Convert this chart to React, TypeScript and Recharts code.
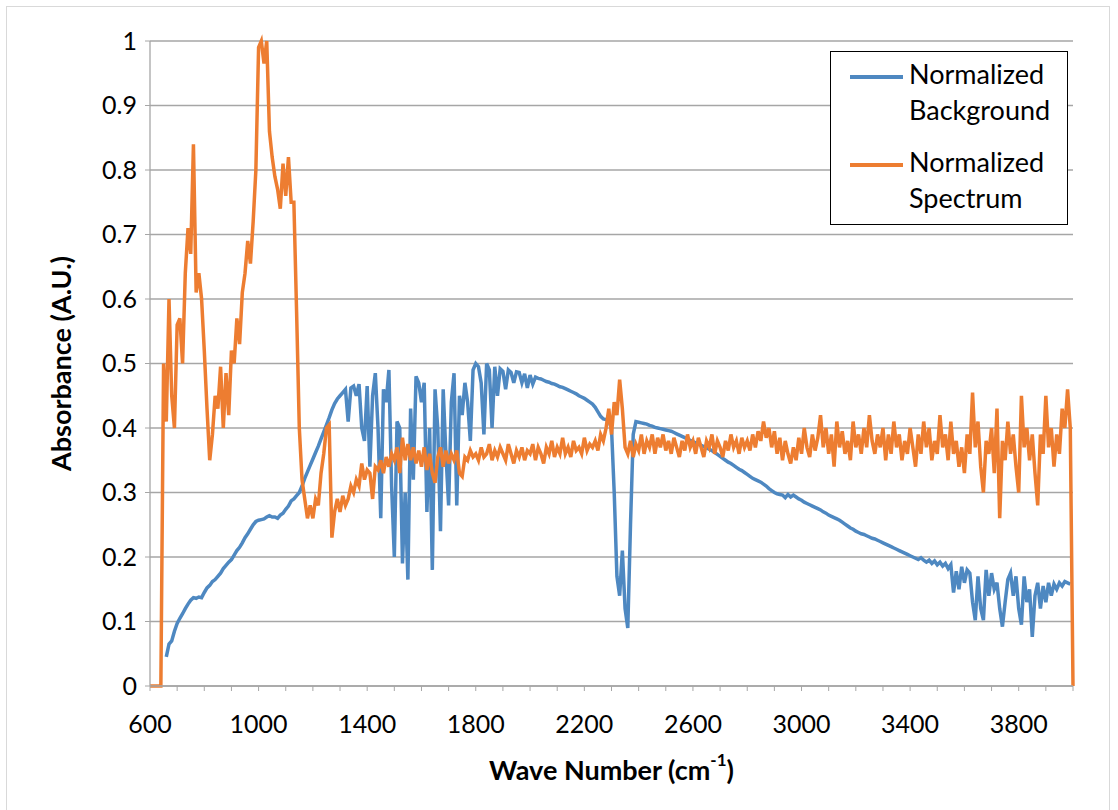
import React from "react"
import { LineChart, Line, XAxis, YAxis, CartesianGrid, Legend } from "recharts"

// wave numbers 600..4000, step 10 cm-1
const waveNumbers: number[] = Array.from({ length: 341 }, (_, i) => 600 + i * 10)

// Normalized Background (blue), one row per 100 cm-1
const background: (number | null)[] = [
  null, null, null, null, null, null, 0.045, 0.065, 0.07, 0.085,
  0.097, 0.105, 0.112, 0.12, 0.127, 0.133, 0.137, 0.136, 0.138, 0.137,
  0.145, 0.152, 0.156, 0.162, 0.165, 0.17, 0.175, 0.182, 0.187, 0.192,
  0.196, 0.203, 0.21, 0.215, 0.222, 0.23, 0.236, 0.243, 0.25, 0.255,
  0.257, 0.258, 0.259, 0.262, 0.264, 0.262, 0.262, 0.26, 0.265, 0.268,
  0.274, 0.279, 0.287, 0.29, 0.295, 0.3, 0.31, 0.322, 0.332, 0.342,
  0.352, 0.362, 0.372, 0.383, 0.394, 0.405, 0.416, 0.428, 0.438, 0.445,
  0.45, 0.455, 0.46, 0.41, 0.462, 0.465, 0.45, 0.468, 0.4, 0.38,
  0.465, 0.34, 0.45, 0.485, 0.4, 0.26, 0.46, 0.44, 0.49, 0.31,
  0.2, 0.41, 0.4, 0.19, 0.3, 0.165, 0.43, 0.32, 0.48, 0.47,
  0.44, 0.47, 0.27, 0.4, 0.18, 0.46, 0.4, 0.24, 0.46, 0.36,
  0.28, 0.44, 0.485, 0.28, 0.45, 0.42, 0.47, 0.44, 0.38, 0.49,
  0.5, 0.495, 0.47, 0.39, 0.5, 0.49, 0.4, 0.495, 0.45, 0.492,
  0.488, 0.46, 0.49, 0.486, 0.47, 0.487, 0.486, 0.47, 0.484, 0.462,
  0.482, 0.468, 0.479, 0.477, 0.476, 0.474, 0.472, 0.471, 0.469, 0.468,
  0.466, 0.464, 0.463, 0.461, 0.459, 0.457, 0.455, 0.453, 0.45, 0.448,
  0.446, 0.443, 0.44, 0.437, 0.432, 0.425, 0.418, 0.414, 0.413, 0.411,
  0.4, 0.3, 0.17, 0.14, 0.21, 0.12, 0.09, 0.25, 0.39, 0.41,
  0.409, 0.408, 0.407, 0.406, 0.404, 0.403, 0.401, 0.4, 0.399, 0.398,
  0.397, 0.396, 0.395, 0.393, 0.391, 0.389, 0.387, 0.385, 0.383, 0.381,
  0.379, 0.377, 0.375, 0.373, 0.371, 0.369, 0.367, 0.365, 0.362, 0.359,
  0.356, 0.353, 0.35, 0.347, 0.345, 0.342, 0.339, 0.336, 0.334, 0.331,
  0.328, 0.325, 0.322, 0.32, 0.318, 0.316, 0.313, 0.31, 0.306, 0.303,
  0.3, 0.298, 0.297, 0.296, 0.292, 0.297, 0.293, 0.296, 0.293, 0.29,
  0.288, 0.285, 0.283, 0.281, 0.279, 0.277, 0.275, 0.273, 0.27, 0.268,
  0.265, 0.263, 0.261, 0.259, 0.257, 0.254, 0.251, 0.248, 0.245, 0.243,
  0.24, 0.238, 0.236, 0.235, 0.233, 0.231, 0.229, 0.228, 0.226, 0.224,
  0.222, 0.22, 0.218, 0.216, 0.214, 0.212, 0.21, 0.208, 0.206, 0.204,
  0.202, 0.2, 0.198, 0.196, 0.199, 0.195, 0.192, 0.195, 0.19, 0.194,
  0.188, 0.192, 0.186, 0.19, 0.182, 0.188, 0.145, 0.178, 0.15, 0.185,
  0.16, 0.18, 0.175, 0.13, 0.102, 0.17, 0.12, 0.102, 0.18, 0.14,
  0.175, 0.15, 0.16, 0.12, 0.092, 0.13, 0.165, 0.175, 0.14, 0.17,
  0.12, 0.095, 0.17, 0.13, 0.15, 0.076, 0.14, 0.16, 0.12, 0.155,
  0.13, 0.16, 0.14, 0.158, 0.15, 0.16, 0.155, 0.162, 0.16, 0.158,
  null,
]

// Normalized Spectrum (orange)
const spectrum: number[] = [
  0, 0, 0, 0, 0, 0.5, 0.41, 0.6, 0.45, 0.4,
  0.56, 0.57, 0.5, 0.64, 0.71, 0.67, 0.84, 0.61, 0.64, 0.6,
  0.52, 0.43, 0.35, 0.39, 0.45, 0.43, 0.495, 0.4, 0.485, 0.42,
  0.52, 0.5, 0.57, 0.53, 0.61, 0.64, 0.69, 0.655, 0.72, 0.8,
  0.99, 1.0, 0.965, 1.0, 0.86, 0.82, 0.79, 0.77, 0.74, 0.81,
  0.76, 0.82, 0.75, 0.75, 0.58, 0.4, 0.32, 0.29, 0.26, 0.28,
  0.26, 0.29, 0.28, 0.33, 0.36, 0.4, 0.405, 0.23, 0.27, 0.29,
  0.27, 0.295, 0.28, 0.29, 0.31, 0.3, 0.32, 0.31, 0.345, 0.32,
  0.335, 0.33, 0.29, 0.34, 0.335, 0.35, 0.33, 0.355, 0.34, 0.36,
  0.35, 0.37, 0.33, 0.385, 0.35, 0.375, 0.35, 0.37, 0.345, 0.365,
  0.34, 0.37, 0.335, 0.36, 0.33, 0.315, 0.355, 0.37, 0.34, 0.365,
  0.345, 0.36, 0.35, 0.365, 0.33, 0.325, 0.355, 0.35, 0.365, 0.355,
  0.36, 0.35, 0.37, 0.355, 0.36, 0.375, 0.35, 0.365, 0.355, 0.37,
  0.36, 0.35, 0.375, 0.36, 0.345, 0.365, 0.355, 0.37, 0.35, 0.365,
  0.36, 0.375, 0.35, 0.37, 0.36, 0.345, 0.37, 0.36, 0.38, 0.355,
  0.37, 0.36, 0.385, 0.36, 0.37, 0.355, 0.38, 0.365, 0.37, 0.36,
  0.385, 0.365, 0.375, 0.37, 0.38, 0.365, 0.39, 0.38, 0.4, 0.43,
  0.39, 0.44, 0.42, 0.475, 0.43, 0.37, 0.36, 0.38, 0.355, 0.375,
  0.365, 0.39, 0.36, 0.38, 0.37, 0.39, 0.36, 0.385, 0.37, 0.39,
  0.365, 0.38, 0.36, 0.385, 0.37, 0.355, 0.38, 0.365, 0.39, 0.37,
  0.38, 0.36, 0.385, 0.37, 0.355, 0.38, 0.37, 0.39, 0.36, 0.38,
  0.37, 0.355, 0.38, 0.365, 0.39, 0.37, 0.38, 0.36, 0.385, 0.37,
  0.38, 0.365, 0.39, 0.37, 0.395, 0.38, 0.41, 0.385, 0.4, 0.37,
  0.395, 0.36, 0.385, 0.35, 0.38, 0.36, 0.345, 0.37, 0.35, 0.385,
  0.36, 0.4, 0.37, 0.355, 0.39, 0.365, 0.385, 0.42, 0.37, 0.4,
  0.36, 0.39, 0.34, 0.41, 0.37, 0.395, 0.36, 0.38, 0.35, 0.41,
  0.37, 0.39, 0.36, 0.4, 0.37, 0.42, 0.38, 0.36, 0.39, 0.37,
  0.4, 0.35, 0.39, 0.36, 0.41, 0.37, 0.39, 0.35, 0.38, 0.36,
  0.4, 0.37, 0.34, 0.39, 0.36, 0.41, 0.37, 0.4, 0.35, 0.38,
  0.36, 0.42, 0.37, 0.39, 0.35, 0.41, 0.36, 0.38, 0.34, 0.37,
  0.33, 0.39, 0.36, 0.455, 0.37, 0.41, 0.34, 0.3, 0.38, 0.36,
  0.4, 0.33, 0.43, 0.26, 0.38, 0.35, 0.41, 0.36, 0.39, 0.34,
  0.3, 0.45, 0.37, 0.4, 0.35, 0.39, 0.33, 0.28, 0.39, 0.36,
  0.45, 0.37, 0.4, 0.34, 0.39, 0.36, 0.43, 0.4, 0.46, 0.4,
  0,
]

const xTicks: number[] = Array.from({ length: 35 }, (_, i) => 600 + i * 100)
const yTicks = [0, 0.1, 0.2, 0.3, 0.4, 0.5, 0.6, 0.7, 0.8, 0.9, 1]

const BLUE = "#4E88C1"
const ORANGE = "#ED7D31"
const GRID = "#a6a6a6"
const FONT = "Lato, 'Open Sans', sans-serif"

const data = waveNumbers.map((w, i) => ({
  w,
  background: background[i],
  spectrum: spectrum[i],
}))

const fmtX = (v: number) => ((v - 600) % 400 === 0 && v < 4000 ? String(v) : "")
const fmtY = (v: number) => String(Math.round(v * 10) / 10)

const XTitle = (props: any) => {
  const vb = props.viewBox || {}
  const cx = vb.x + vb.width / 2
  return (
    <text x={cx} y={769} textAnchor="middle" dominantBaseline="central"
      style={{ fontFamily: FONT, fontSize: 27, fontWeight: 700, fill: "#000" }}>
      <tspan>Wave Number (cm</tspan>
      <tspan dy={-10} fontSize={17}>-1</tspan>
      <tspan dy={10}>)</tspan>
    </text>
  )
}

const YTitle = (props: any) => {
  const vb = props.viewBox || {}
  const cy = vb.y + vb.height / 2
  return (
    <text x={60} y={cy} transform={`rotate(-90, 60, ${cy})`} textAnchor="middle"
      dominantBaseline="central"
      style={{ fontFamily: FONT, fontSize: 27, fontWeight: 700, fill: "#000" }}>
      Absorbance (A.U.)
    </text>
  )
}

const LegendBox = () => {
  const items = [
    { color: BLUE, lines: ["Normalized", "Background"] },
    { color: ORANGE, lines: ["Normalized", "Spectrum"] },
  ]
  return (
    <div style={{
      width: 238, height: 174, boxSizing: "border-box", border: "1.5px solid #000",
      background: "#fff", paddingTop: 4, fontFamily: FONT, fontSize: 27, color: "#000",
    }}>
      {items.map((it) => (
        <div key={it.lines[1]} style={{ display: "flex", alignItems: "flex-start", marginBottom: 16 }}>
          <div style={{ width: 53, height: 3.5, background: it.color, marginLeft: 19, marginTop: 19, marginRight: 6 }} />
          <div style={{ lineHeight: "36px" }}>
            {it.lines.map((t) => <div key={t}>{t}</div>)}
          </div>
        </div>
      ))}
    </div>
  )
}

export default function App() {
  return (
    <div style={{ position: "absolute", left: 0, top: 0, width: 1118, height: 810, background: "#fff" }}>
      <div style={{
        position: "absolute", left: 6, top: 6, width: 1104, height: 820,
        border: "1px solid #d9d9d9", boxSizing: "border-box",
      }} />
      <div style={{ position: "absolute", left: 0, top: 0 }}>
        <LineChart width={1118} height={810} data={data}
          margin={{ top: 41, right: 45, bottom: 34, left: 0 }}>
          <CartesianGrid horizontal vertical={false} stroke={GRID} strokeWidth={1.3} />
          <XAxis dataKey="w" type="number" domain={[600, 4000]} ticks={xTicks} interval={0}
            tickFormatter={fmtX} height={90} tickSize={5} tickMargin={24}
            axisLine={{ stroke: GRID, strokeWidth: 1.3 }} tickLine={{ stroke: GRID }}
            tick={{ fontFamily: FONT, fontSize: 25, fill: "#000" }}
            label={(p: any) => <XTitle {...p} />} />
          <YAxis type="number" domain={[0, 1]} ticks={yTicks} interval={0} width={150}
            tickFormatter={fmtY} tickSize={5} tickMargin={8}
            axisLine={{ stroke: GRID, strokeWidth: 1.3 }} tickLine={{ stroke: GRID }}
            tick={{ fontFamily: FONT, fontSize: 25, fill: "#000" }}
            label={(p: any) => <YTitle {...p} />} />
          <Legend layout="horizontal" verticalAlign="middle" align="center"
            content={() => <LegendBox />}
            wrapperStyle={{ left: 830, top: 51, width: 238, height: 174 }} />
          <Line type="linear" dataKey="background" stroke={BLUE} strokeWidth={3.5}
            dot={false} isAnimationActive={false} connectNulls={false} />
          <Line type="linear" dataKey="spectrum" stroke={ORANGE} strokeWidth={3.5}
            dot={false} isAnimationActive={false} />
        </LineChart>
      </div>
    </div>
  )
}
